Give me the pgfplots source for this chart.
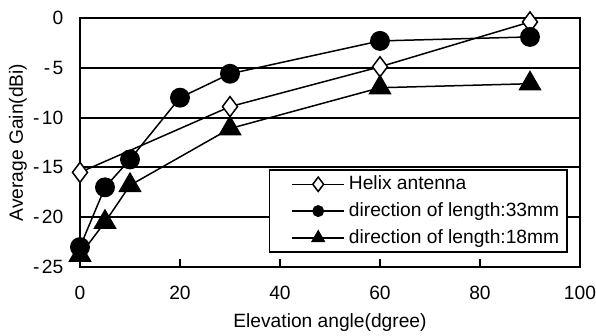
\documentclass[border=0pt]{standalone}
\usepackage{pgfplots}
\pgfplotsset{compat=1.18}
\usepackage{fontspec}
\setmainfont{Liberation Sans}
\begin{document}
\fontsize{9.6}{11.5}\selectfont
\begin{tikzpicture}
\useasboundingbox (-40pt,-34.5pt) rectangle (258pt,133.5pt);
\begin{axis}[
  at={(0,0)}, anchor=south west,
  scale only axis, width=250pt, height=124.5pt,
  xmin=0, xmax=100, ymin=-25, ymax=0,
  clip=false,
  xtick={0,20,40,60,80,100},
  ytick={-25,-20,-15,-10,-5,0},
  yticklabels={-\kern.12em25,-\kern.12em20,-\kern.12em15,-\kern.12em10,-\kern.12em5,0},
  /pgf/number format/assume math mode=true,
  xtick pos=lower, ytick pos=left,
  tick align=inside,
  major tick length=4pt,
  xtick style={black, line width=1pt},
  ytick style={draw=none},
  ymajorgrids,
  major grid style={black, line width=1pt},
  axis line style={black, line width=1.2pt},
  tick label style={font=\fontsize{9.6}{11.5}\selectfont},
  yticklabel style={xshift=-5pt},
  xticklabel style={yshift=-6pt},
  xlabel={Elevation angle(dgree)},
  ylabel={Average Gain(dBi)},
  label style={font=\fontsize{9.6}{11.5}\selectfont},
  xlabel style={at={(axis description cs:0.5,-0.225)}, anchor=center},
  ylabel style={at={(axis description cs:-0.124,0.5)}, anchor=center},
  legend image code/.code={\path (-6pt,0pt); \draw[mark repeat=2,mark phase=2,#1] plot coordinates {(3pt,0pt) (16pt,0pt) (29pt,0pt)};},
  legend style={at={(0.976,0.056)}, anchor=south east, draw=black, line width=0.8pt, fill=white,
    font=\fontsize{9.6}{11.5}\selectfont, row sep=1pt, inner xsep=2pt, inner ysep=1pt},
  legend cell align=left,
]
\addplot[black, line width=0.75pt, mark=diamond*, mark size=5pt, mark options={solid, fill=white, line width=0.75pt},
  legend image post style={mark size=3.6pt}]
  coordinates {(0,-15.5) (30,-8.9) (60,-4.9) (90,-0.4)};
\addlegendentry{Helix antenna}
\addplot[black, line width=0.75pt, mark=*, mark size=4.6pt, mark options={solid, fill=black},
  legend image post style={mark size=2.6pt}]
  coordinates {(0,-23) (5,-17) (10,-14.2) (20,-8) (30,-5.6) (60,-2.3) (90,-1.9)};
\addlegendentry{direction of length:33mm}
\addplot[black, line width=0.75pt, mark=triangle*, mark size=6pt, mark options={solid, fill=black},
  legend image post style={mark size=3.4pt}]
  coordinates {(0,-23.8) (5,-20.5) (10,-16.8) (30,-11.1) (60,-7) (90,-6.6)};
\addlegendentry{direction of length:18mm}
\end{axis}
\end{tikzpicture}
\end{document}
